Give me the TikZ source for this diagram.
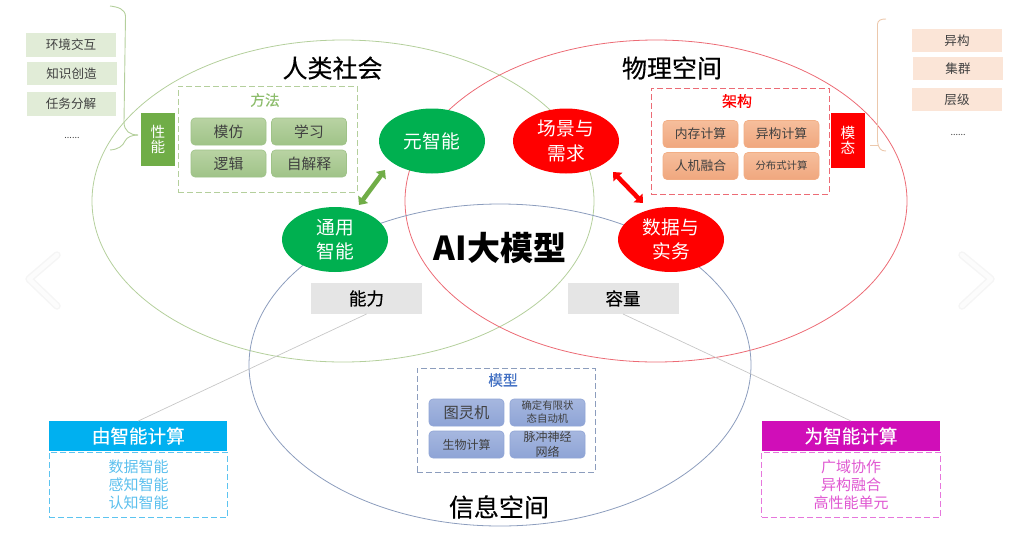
\documentclass[tikz,border=0pt]{standalone}
\usepackage{fontspec}
\setmainfont{Noto Sans CJK SC}
\newfontfamily\midf[FakeBold=0.35]{Noto Sans CJK SC}
\usetikzlibrary{shapes.geometric,arrows.meta,calc}
\definecolor{grnA}{HTML}{70AD47}
\definecolor{grnL}{HTML}{B4CF9C}
\definecolor{grnE}{HTML}{00B050}
\definecolor{redL}{HTML}{EC6B75}
\definecolor{bluL}{HTML}{8C9DBD}
\definecolor{txt}{HTML}{404040}
\definecolor{cyanH}{HTML}{00B0F0}
\definecolor{cyanD}{HTML}{5CC4F0}
\definecolor{cyanT}{HTML}{5CC0EE}
\definecolor{magH}{HTML}{D00EB8}
\definecolor{magD}{HTML}{E676DC}
\definecolor{magT}{HTML}{E058D2}
\definecolor{bluT}{HTML}{4472C4}
\definecolor{tanB}{HTML}{ECC8AC}
\definecolor{grnC}{HTML}{B9D3A3}
\definecolor{grnD}{HTML}{9FC388}
\definecolor{orT}{HTML}{F6BE9C}
\definecolor{orB}{HTML}{F0A77E}
\definecolor{orD}{HTML}{F2AE85}
\definecolor{blT}{HTML}{A6B7DF}
\definecolor{blB}{HTML}{8EA4D6}
\definecolor{blD}{HTML}{90A5D6}
\newcommand{\fs}[2]{\fontsize{#1}{#2}\selectfont}
\tikzset{
  every node/.style={inner sep=0pt,outer sep=0pt,align=center},
  big/.style={ellipse,minimum width=502,minimum height=322,line width=0.8pt},
  oval/.style={ellipse,minimum width=106,minimum height=65,text=white,font=\fs{18.7}{24.5}},
  title/.style={font=\midf\fs{25}{30},text=black},
  card/.style={rounded corners=4pt,minimum width=75,minimum height=27,text=txt,line width=0.6pt},
  gcard/.style={card,top color=grnC,bottom color=grnD,draw=grnD},
  ocard/.style={card,top color=orT,bottom color=orB,draw=orD},
  bcard/.style={card,top color=blT,bottom color=blB,draw=blD},
  side/.style={minimum width=90,minimum height=23.5,text=txt,font=\fs{12.6}{15}},
  frame/.style={dashed,dash pattern=on 6pt off 3pt,line width=1pt,fill=white},
  tag/.style={minimum width=34,text=white,font=\fs{14.6}{15.5}},
  gray/.style={fill=black!10,minimum width=111,minimum height=31,text=black,font=\midf\fs{17.5}{20}},
  link/.style={draw=black!22,line width=0.7pt},
  dbl/.style={{Triangle[length=7pt,width=12pt]}-{Triangle[length=7pt,width=12pt]},line width=4.6pt},
  chev/.style={line cap=round,line join=round},
  head/.style={minimum width=178,minimum height=30,text=white,font=\midf\fs{18.6}{22}},
  list/.style={minimum width=178.5,minimum height=65,font=\fs{15}{18}},
  brace/.style={line width=0.9pt},
}
\begin{document}
\begin{tikzpicture}[x=1pt,y=-1pt]
\useasboundingbox (0,0) rectangle (1017,552);
% chevrons
\foreach \w/\c in {7.5/black!4,4.5/black!1}{
  \draw[chev,line width=\w pt,draw=\c] (57,255) -- (29,279) -- (57,306);
  \draw[chev,line width=\w pt,draw=\c] (962,255) -- (991,279) -- (962,306);
}
% large ellipses
\node[big,draw=grnL] (hs) at (343,201) {};
\node[big,draw=redL] (ps) at (656,201) {};
\node[big,draw=bluL] (is) at (500,365) {};
% titles
\node[title] (t1) at (332.5,68) {人类社会};
\node[title] (t2) at (672,68) {物理空间};
\node[title] (t3) at (499,507) {信息空间};
\node[font=\fs{33}{36}\bfseries,text=black] (ai) at (500,248) {AI大模型};
% capacity labels
\node[gray] (nl) at (366.5,298.5) {能力};
\node[gray] (rl) at (623,298.5) {容量};
% call-outs
\node[head,fill=cyanH] (h1) at (138.25,436) {由智能计算};
\node[list,frame,draw=cyanD,text=cyanT] (l1) at (138.5,484.5) {数据智能\\感知智能\\认知智能};
\node[head,fill=magH] (h2) at (851,436) {为智能计算};
\node[list,frame,draw=magD,text=magT] (l2) at (851,484.5) {广域协作\\异构融合\\高性能单元};
\draw[link] (h1.north) -- (nl.south);
\draw[link] (h2.north) -- (rl.south);
% ovals
\node[oval,fill=grnE] (yz) at (432,141) {元智能};
\node[oval,fill=grnE] (ty) at (335,239.5) {通用\\智能};
\node[oval,fill=red] (cj) at (566,141) {场景与\\需求};
\node[oval,fill=red] (sj) at (671,239.5) {数据与\\实务};
\draw[dbl,draw=grnA,fill=grnA] ($(ty)+(24,-34.5)$) -- ($(yz)+(-47,29)$);
\draw[dbl,draw=red,fill=red] ($(cj)+(47,31)$) -- ($(sj)+(-28,-36.5)$);
% method frame
\node[frame,draw=grnL,minimum width=179,minimum height=106] (fm) at (267.5,139) {};
\node[font=\midf\fs{14.7}{16},text=grnA!80!white] (fmt) at (265,100) {方法};
\node[gcard,font=\fs{14.8}{16}] (c1) at (228.5,131.5) {模仿};
\node[gcard,font=\fs{14.8}{16}] (c2) at (309,131.5) {学习};
\node[gcard,font=\fs{14.8}{16}] (c3) at (228.5,163.5) {逻辑};
\node[gcard,font=\fs{14.8}{16}] (c4) at (309,163.5) {自解释};
\node[tag,fill=grnA,minimum height=53] (xn) at (158,139.5) {性\\能};
% architecture frame
\node[frame,draw=redL,minimum width=178,minimum height=106] (fa) at (740,141) {};
\node[font=\midf\fs{15}{16},text=red] (fat) at (737,101) {架构};
\node[ocard,font=\fs{12.8}{14}] (o1) at (700.5,134) {内存计算};
\node[ocard,font=\fs{12.8}{14}] (o2) at (781.5,134) {异构计算};
\node[ocard,font=\fs{12.8}{14}] (o3) at (700.5,166) {人机融合};
\node[ocard,font=\fs{10.4}{12}] (o4) at (781.5,166) {分布式计算};
\node[tag,fill=red,minimum height=55] (mt) at (848,140.5) {模\\态};
% model frame
\node[frame,draw=bluL,minimum width=178,minimum height=104] (fb) at (506,420) {};
\node[font=\midf\fs{14.7}{16},text=bluT] (fbt) at (503,380) {模型};
\node[bcard,font=\fs{15.3}{17}] (b1) at (466.5,412.5) {图灵机};
\node[bcard,font=\fs{10.4}{13}] (b2) at (547.5,412.5) {确定有限状\\态自动机};
\node[bcard,font=\fs{12}{14}] (b3) at (466.5,444.5) {生物计算};
\node[bcard,font=\fs{12}{14.5}] (b4) at (547.5,444.5) {脉冲神经\\网络};
% left list
\node[side,fill=grnL!40!white] (s1) at (71,45) {环境交互};
\node[side,fill=grnL!40!white] (s2) at (71.5,73.5) {知识创造};
\node[side,fill=grnL!40!white,minimum width=89] (s3) at (71,104) {任务分解};
\node[anchor=base,font=\fs{9}{10},text=txt] (s4) at (72,138) {......};
% right list
\node[side,fill=orT!40!white] (r1) at (957,40.5) {异构};
\node[side,fill=orT!40!white] (r2) at (958,68.5) {集群};
\node[side,fill=orT!40!white] (r3) at (957,99.5) {层级};
\node[anchor=base,font=\fs{9}{10},text=txt] (r4) at (958,135) {......};
% braces
\coordinate (bl) at (138,135);
\coordinate (br) at (870,145);
\draw[brace,draw=grnL] (110,6) .. controls (118,7) and (125,9) .. (125.5,16) -- (124,122) .. controls (124,131) and (130,135) .. (bl);
\draw[brace,draw=grnL] (110,150) .. controls (118,149.5) and (123,146) .. (125,141) .. controls (127,137) and (132,135) .. (bl);
\draw[brace,draw=tanB] (886,19) .. controls (881,19) and (878,20) .. (877.5,24) -- (877.5,140) .. controls (878,149) and (881,151) .. (886,151);
\draw[brace,draw=tanB] (br) -- (877.5,145);
\end{tikzpicture}
\end{document}
